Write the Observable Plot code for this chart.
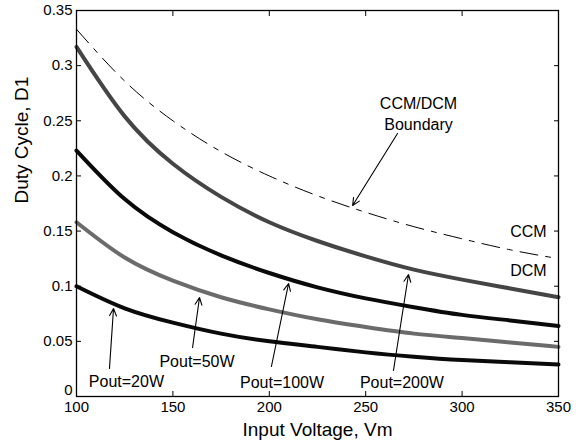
<!DOCTYPE html>
<html>
<head>
<meta charset="utf-8">
<script src="https://cdn.jsdelivr.net/npm/d3@7"></script>
<script src="https://cdn.jsdelivr.net/npm/@observablehq/plot@0.6"></script>
<style>
  html, body { margin: 0; padding: 0; background: #fff; }
  svg { font-family: "Liberation Sans", Arial, sans-serif; }
</style>
</head>
<body>
<div id="chart"></div>
<script>
// Input voltage samples (V)
const voltage = [100, 125, 150, 175, 200, 225, 250, 275, 300, 325, 350];
// Duty cycle series
const pout200 = [0.317, 0.254, 0.211, 0.181, 0.158, 0.141, 0.127, 0.115, 0.106, 0.098, 0.090];
const pout100 = [0.223, 0.179, 0.149, 0.128, 0.112, 0.099, 0.089, 0.081, 0.074, 0.069, 0.064];
const pout50  = [0.158, 0.126, 0.105, 0.090, 0.079, 0.070, 0.063, 0.057, 0.053, 0.049, 0.045];
const pout20  = [0.100, 0.080, 0.067, 0.057, 0.050, 0.045, 0.040, 0.036, 0.033, 0.031, 0.029];
const boundary = [0.333, 0.286, 0.250, 0.222, 0.200, 0.182, 0.167, 0.154, 0.143, 0.133, 0.125];

// Tick values and labels
const xTicks = [100, 150, 200, 250, 300, 350];
const yTicks = [0, 0.05, 0.1, 0.15, 0.2, 0.25, 0.3, 0.35];
const yTickLabels = ["0", "0.05", "0.1", "0.15", "0.2", "0.25", "0.3", "0.35"];

// Annotations (data coordinates)
const labelText = ["Pout=20W", "Pout=50W", "Pout=100W", "Pout=200W", "CCM/DCM", "Boundary", "CCM", "DCM"];
const labelX    = [125.9, 162.5, 206.6, 268.8, 277.4, 277.4, 334.4, 334.4];
const labelY    = [0.0136, 0.0317, 0.0127, 0.0127, 0.2657, 0.2466, 0.1496, 0.1142];
const arrowX1 = [117.1, 160.2, 201.1, 264.4, 266.5];
const arrowY1 = [0.0254, 0.0444, 0.0272, 0.0236, 0.2385];
const arrowX2 = [119.2, 163.8, 210.0, 272.2, 243.2];
const arrowY2 = [0.0798, 0.0898, 0.1025, 0.1106, 0.1732];

const seriesList = [
  {name: "200W", values: pout200, color: "#454545"},
  {name: "100W", values: pout100, color: "#0a0a0a"},
  {name: "50W",  values: pout50,  color: "#6b6b6b"},
  {name: "20W",  values: pout20,  color: "#0a0a0a"}
];
const solidRows = seriesList.flatMap(s => voltage.map((v, i) => ({series: s.name, v, d: s.values[i], color: s.color})));
const boundaryRows = voltage.map((v, i) => ({v, d: boundary[i]}));
const labelRows = labelText.map((t, i) => ({t, x: labelX[i], y: labelY[i]}));
const arrowRows = arrowX1.map((x1, i) => ({x1, y1: arrowY1[i], x2: arrowX2[i], y2: arrowY2[i]}));
const yFmt = d => yTickLabels[yTicks.findIndex(t => Math.abs(t - d) < 1e-9)];

const chart = Plot.plot({
  width: 581,
  height: 447,
  marginLeft: 76,
  marginRight: 23,
  marginTop: 10,
  marginBottom: 51,
  x: {domain: [100, 350]},
  y: {domain: [0, 0.35]},
  style: {fontFamily: "'Liberation Sans', Arial, sans-serif", background: "#fff", color: "#000"},
  marks: [
    // tick labels
    Plot.axisX({anchor: "bottom", ticks: xTicks, tickSize: 0, tickPadding: 5, fontSize: 15, label: null}),
    Plot.axisY({anchor: "left", ticks: yTicks.slice(1), tickSize: 0, tickPadding: 4, fontSize: 15, label: null, tickFormat: yFmt}),
    Plot.axisY({anchor: "left", ticks: yTicks.slice(0, 1), tickSize: 0, tickPadding: 4, dy: -6, fontSize: 15, label: null, tickFormat: yFmt}),
    // inward ticks on all four sides
    Plot.axisX({anchor: "bottom", ticks: xTicks, tickSize: 5, dy: -5, tickFormat: () => "", label: null}),
    Plot.axisX({anchor: "top", ticks: xTicks, tickSize: 5, dy: 5, tickFormat: () => "", label: null}),
    Plot.axisY({anchor: "left", ticks: yTicks, tickSize: 5, dx: 5, tickFormat: () => "", label: null}),
    Plot.axisY({anchor: "right", ticks: yTicks, tickSize: 5, dx: -5, tickFormat: () => "", label: null}),
    // boundary (dash-dot)
    Plot.line(boundaryRows, {x: "v", y: "d", stroke: "#000", strokeWidth: 1, strokeDasharray: "18,8,5,8", curve: "natural"}),
    // power curves
    Plot.line(solidRows, {x: "v", y: "d", z: "series", stroke: "color", strokeWidth: 4, curve: "natural"}),
    // arrows
    Plot.arrow(arrowRows, {x1: "x1", y1: "y1", x2: "x2", y2: "y2", stroke: "#000", strokeWidth: 1.1, headLength: 11, headAngle: 50}),
    // annotation text
    Plot.text(labelRows, {x: "x", y: "y", text: "t", fontSize: 16, fill: "#000", lineAnchor: "middle"}),
    // axis titles
    Plot.text(["Input Voltage, Vm"], {frameAnchor: "bottom", dy: 33, text: d => d, fontSize: 19, lineAnchor: "middle", fill: "#000"}),
    Plot.text(["Duty Cycle, D1"], {frameAnchor: "left", dx: -55, text: d => d, fontSize: 19, rotate: -90, lineAnchor: "middle", fill: "#000"}),
    Plot.frame({stroke: "#000", strokeWidth: 1.3})
  ]
});
document.getElementById("chart").appendChild(chart);
</script>
</body>
</html>
